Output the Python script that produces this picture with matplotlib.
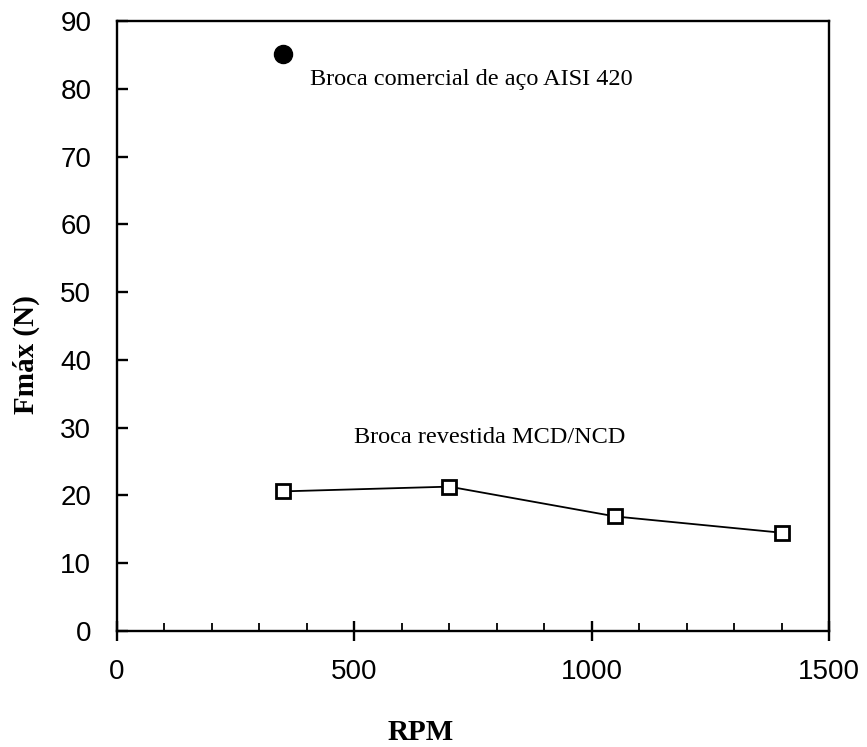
import matplotlib
matplotlib.use("Agg")
import matplotlib.pyplot as plt
from matplotlib.ticker import MultipleLocator

# data
rpm_coated = [350, 700, 1050, 1400]
fmax_coated = [20.6, 21.3, 16.9, 14.5]
rpm_steel = [350]
fmax_steel = [85.2]

label_steel = "Broca comercial de aço AISI 420"
label_coated = "Broca revestida MCD/NCD"


def main():
    fig = plt.figure(figsize=(8.67, 7.47), dpi=100)
    # axes box in pixels: x 117..829, y 21..631
    ax = fig.add_axes([117 / 867, 1 - 631 / 747, (829 - 117) / 867, (631 - 21) / 747])

    ax.plot(rpm_coated, fmax_coated, color="black", lw=1.3, marker="s", ms=10,
            mfc="white", mec="black", mew=2.0)
    ax.plot(rpm_steel, fmax_steel, "o", color="black", ms=13)

    ax.text(406, 80.6, label_steel, family="Liberation Serif",
            fontsize=17.5, va="baseline", ha="left")
    ax.text(500, 27.7, label_coated, family="Liberation Serif",
            fontsize=17.5, va="baseline", ha="left")

    ax.set_xlim(0, 1500)
    ax.set_ylim(0, 90)
    ax.xaxis.set_major_locator(MultipleLocator(500))
    ax.xaxis.set_minor_locator(MultipleLocator(100))
    ax.yaxis.set_major_locator(MultipleLocator(10))

    for sp in ax.spines.values():
        sp.set_linewidth(1.7)
    ax.tick_params(axis="x", which="major", direction="inout", length=14, width=1.7,
                   labelsize=20, pad=13)
    ax.tick_params(axis="x", which="minor", direction="in", length=6, width=1.3)
    ax.tick_params(axis="y", which="major", direction="in", length=8, width=1.7,
                   labelsize=20, pad=18.5)
    for lab in ax.get_xticklabels() + ax.get_yticklabels():
        lab.set_family("Liberation Sans")

    ax.set_xlabel("RPM", family="Liberation Serif", fontweight="bold", fontsize=21,
                  va="center")
    ax.set_ylabel("Fmáx (N)", family="Liberation Serif", fontweight="bold", fontsize=21,
                  va="center")
    ax.xaxis.set_label_coords(0.427, -0.166)
    ax.yaxis.set_label_coords(-0.128, 0.4536)

    fig.savefig("out.png", dpi=100)


if __name__ == "__main__":
    main()
